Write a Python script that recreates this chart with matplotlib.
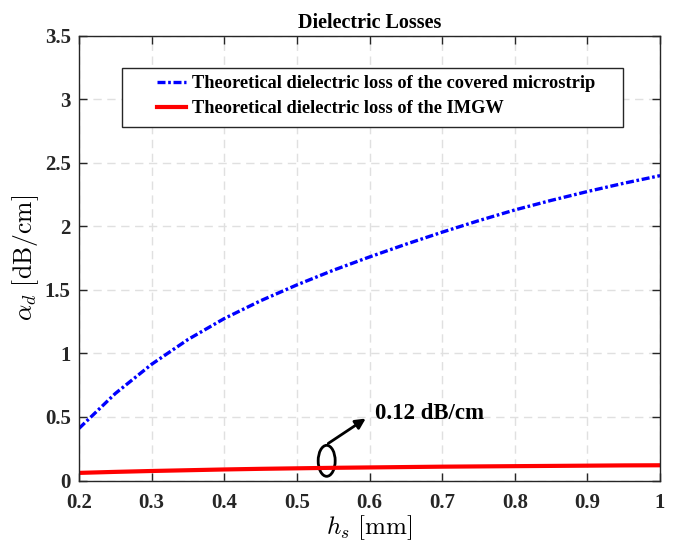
import matplotlib
matplotlib.use("Agg")
import matplotlib.pyplot as plt
from matplotlib.patches import Ellipse, Rectangle
from matplotlib.ticker import FuncFormatter

## data
hs = [0.2, 0.25, 0.3, 0.35, 0.4, 0.45, 0.5, 0.55, 0.6, 0.65, 0.7, 0.75, 0.8, 0.85, 0.9, 0.95, 1.0]
alpha_microstrip = [0.41, 0.685, 0.915, 1.11, 1.275, 1.415, 1.54, 1.655, 1.76, 1.86, 1.955,
                    2.045, 2.13, 2.205, 2.275, 2.34, 2.40]
alpha_imgw = [0.060, 0.068, 0.075, 0.081, 0.087, 0.092, 0.096, 0.100, 0.103, 0.106, 0.109,
              0.111, 0.113, 0.115, 0.117, 0.119, 0.120]

xticks = [0.2, 0.3, 0.4, 0.5, 0.6, 0.7, 0.8, 0.9, 1.0]
yticks = [0, 0.5, 1, 1.5, 2, 2.5, 3, 3.5]

plt.rcParams['font.family'] = ['Liberation Serif', 'DejaVu Serif']
plt.rcParams['mathtext.fontset'] = 'cm'

fig = plt.figure(figsize=(6.84, 5.44), dpi=100)
ax = fig.add_axes([0.1155, 0.1167, 0.8495, 0.8173])

ax.plot(hs, alpha_microstrip, color='blue', linestyle=(0, (2.4, 0.8, 0.8, 0.8)), linewidth=2.4,
        label='Theoretical dielectric loss of the covered microstrip')
ax.plot(hs, alpha_imgw, color='red', linestyle='-', linewidth=3.0,
        label='Theoretical dielectric loss of the IMGW')

ax.set_xlim(0.2, 1.0)
ax.set_ylim(0, 3.5)
ax.set_xticks(xticks)
ax.set_yticks(yticks)
ax.xaxis.set_major_formatter(FuncFormatter(lambda v, p: '%g' % v))
ax.yaxis.set_major_formatter(FuncFormatter(lambda v, p: '%g' % v))
for lab in ax.get_xticklabels() + ax.get_yticklabels():
    lab.set_fontweight('bold')
    lab.set_fontsize(15)

ax.tick_params(direction='in', top=True, right=True, length=6, width=1, colors='#262626')
ax.tick_params(axis='x', pad=9)
ax.tick_params(axis='y', pad=6)
ax.grid(True, linestyle=(0, (6, 4)), color='#e0e0e0', linewidth=1)
for s in ax.spines.values():
    s.set_color('#262626')
    s.set_linewidth(1)

ax.set_xlabel(r'$h_s\ [\mathrm{mm}]$', fontsize=18, labelpad=0)
ax.set_ylabel(r'$\alpha_d\ [\mathrm{dB/cm}]$', fontsize=18.5, labelpad=3)
ax.set_title('Dielectric Losses', fontsize=14.5, fontweight='bold', pad=6)

## legend: MATLAB-like wide white box drawn by hand, entries on top
ax.add_patch(Rectangle((0.074, 0.795), 0.862, 0.133, transform=ax.transAxes,
                       facecolor='white', edgecolor='#262626', linewidth=1, zorder=4.5))
leg = ax.legend(loc='upper left', bbox_to_anchor=(0.134, 0.912), borderaxespad=0,
                prop={'weight': 'bold', 'size': 13.2}, frameon=False,
                handlelength=1.6, handletextpad=0.3, borderpad=0, labelspacing=0.45)
leg.set_zorder(5)

## ellipse + arrow annotation
ax.add_patch(Ellipse((0.541, 0.155), 0.0234, 0.244, fill=False, edgecolor='black', linewidth=2))
ax.annotate('', xy=(0.598, 0.50), xytext=(0.540, 0.28),
            arrowprops=dict(arrowstyle='-|>', color='black', linewidth=2, mutation_scale=15))
ax.text(0.607, 0.53, '0.12 dB/cm', fontsize=16.5, fontweight='bold', va='center', ha='left')

fig.savefig('out.png', dpi=100)
